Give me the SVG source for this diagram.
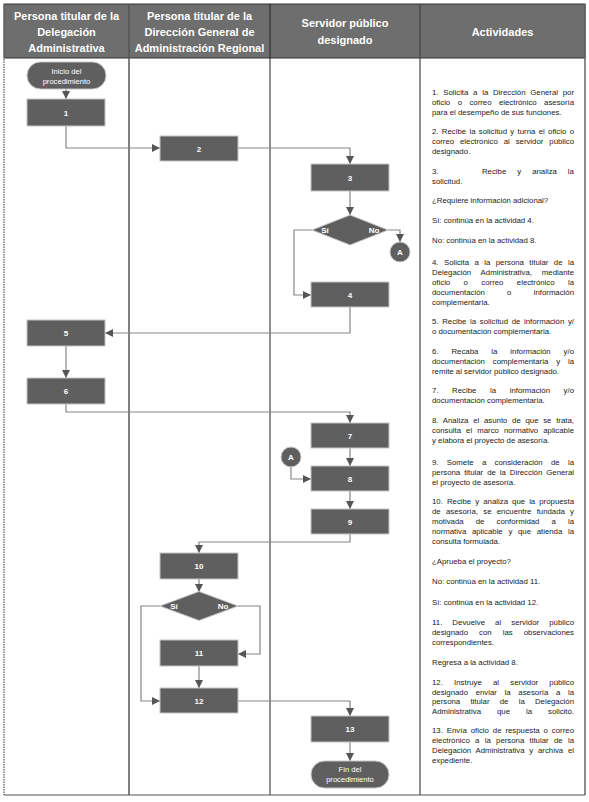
<svg xmlns="http://www.w3.org/2000/svg" width="589" height="802" viewBox="0 0 589 802">
<style>
.hdr{font-family:"Liberation Sans",Arial,sans-serif;font-size:11px;font-weight:bold;fill:#fff;text-anchor:middle}
.box{fill:#5f5f5f;stroke:#c4c4c4;stroke-width:1}
.lbl{font-family:"Liberation Sans",Arial,sans-serif;font-size:8px;font-weight:bold;fill:#fff;text-anchor:middle}
.term{font-family:"Liberation Sans",Arial,sans-serif;font-size:7.6px;fill:#fff;text-anchor:middle}
.act{font-family:"Liberation Sans",Arial,sans-serif;font-size:7.8px;fill:#222}
.con{fill:none;stroke:#858585;stroke-width:1.2}
</style>
<defs>
<marker id="ar" markerUnits="userSpaceOnUse" markerWidth="9" markerHeight="9" refX="8" refY="4" orient="auto">
<path d="M0,0 L8,4 L0,8 z" fill="#555"/>
</marker>
</defs>
<rect x="0" y="0" width="589" height="802" fill="#fff"/>
<g id="table">
<rect x="4" y="4" width="581" height="54" fill="#6e6e6e" stroke="#333" stroke-width="1"/>
<line x1="4" y1="4" x2="4" y2="795" stroke="#777" stroke-width="1.5" stroke-dasharray="1.5,1"/>
<line x1="129" y1="4" x2="129" y2="795" stroke="#555" stroke-width="1.5"/>
<line x1="270" y1="4" x2="270" y2="795" stroke="#222" stroke-width="1"/>
<line x1="420" y1="4" x2="420" y2="795" stroke="#444" stroke-width="1.2"/>
<line x1="585" y1="4" x2="585" y2="795" stroke="#666" stroke-width="1.5"/>
<line x1="4" y1="795" x2="585" y2="795" stroke="#555" stroke-width="1.2"/>
<text class="hdr" x="66.5" y="20">Persona titular de la</text>
<text class="hdr" x="66.5" y="36">Delegación</text>
<text class="hdr" x="66.5" y="52">Administrativa</text>
<text class="hdr" x="199.5" y="20">Persona titular de la</text>
<text class="hdr" x="199.5" y="36">Dirección General de</text>
<text class="hdr" x="199.5" y="52">Administración Regional</text>
<text class="hdr" x="345" y="27">Servidor público</text>
<text class="hdr" x="345" y="44">designado</text>
<text class="hdr" x="502.5" y="36">Actividades</text>
</g>
<g id="connectors">
<path class="con" marker-end="url(#ar)" d="M66,89 L66,99"/>
<path class="con" marker-end="url(#ar)" d="M66,126 L66,148 L160,148"/>
<path class="con" marker-end="url(#ar)" d="M238,148 L350,148 L350,164"/>
<path class="con" marker-end="url(#ar)" d="M350,191 L350,215"/>
<path class="con" marker-end="url(#ar)" d="M312,230 L294,230 L294,295 L311,295"/>
<path class="con" marker-end="url(#ar)" d="M388,230 L400,230 L400,242"/>
<path class="con" marker-end="url(#ar)" d="M350,307 L350,333 L105,333"/>
<path class="con" marker-end="url(#ar)" d="M66,346 L66,378"/>
<path class="con" marker-end="url(#ar)" d="M66,404 L66,412 L350,412 L350,423"/>
<path class="con" marker-end="url(#ar)" d="M350,448 L350,466"/>
<path class="con" marker-end="url(#ar)" d="M291,467 L291,479 L311,479"/>
<path class="con" marker-end="url(#ar)" d="M350,491 L350,509"/>
<path class="con" marker-end="url(#ar)" d="M350,534 L350,542 L199,542 L199,553"/>
<path class="con" marker-end="url(#ar)" d="M199,579 L199,592"/>
<path class="con" marker-end="url(#ar)" d="M160,606 L141,606 L141,701 L160,701"/>
<path class="con" marker-end="url(#ar)" d="M238,606 L260,606 L260,654 L238,654"/>
<path class="con" marker-end="url(#ar)" d="M199,666 L199,688"/>
<path class="con" marker-end="url(#ar)" d="M238,701 L350,701 L350,716"/>
<path class="con" marker-end="url(#ar)" d="M350,742 L350,761"/>
</g>
<g id="inicio"><rect class="box" x="27" y="62" width="79" height="27" rx="13.5"/><text class="term" x="66.5" y="73.5">Inicio del</text><text class="term" x="66.5" y="84">procedimiento</text></g>
<g id="n1"><rect class="box" x="27" y="99" width="78" height="27"/><text class="lbl" x="66" y="115.5">1</text></g>
<g id="n2"><rect class="box" x="160" y="136" width="78" height="25"/><text class="lbl" x="199" y="151.5">2</text></g>
<g id="n3"><rect class="box" x="311" y="164" width="78" height="27"/><text class="lbl" x="350" y="180.5">3</text></g>
<g id="d1"><path class="box" d="M350,215 L388,230 L350,245 L312,230 z"/><text class="lbl" x="325" y="233">Sí</text><text class="lbl" x="374" y="233">No</text></g>
<g id="a1"><circle class="box" cx="400" cy="252" r="10"/><text class="lbl" x="400" y="255">A</text></g>
<g id="n4"><rect class="box" x="311" y="282" width="78" height="25"/><text class="lbl" x="350" y="297.5">4</text></g>
<g id="n5"><rect class="box" x="27" y="320" width="78" height="26"/><text class="lbl" x="66" y="336">5</text></g>
<g id="n6"><rect class="box" x="27" y="378" width="78" height="26"/><text class="lbl" x="66" y="394">6</text></g>
<g id="n7"><rect class="box" x="311" y="423" width="78" height="25"/><text class="lbl" x="350" y="438.5">7</text></g>
<g id="a2"><circle class="box" cx="291" cy="457" r="10"/><text class="lbl" x="291" y="460">A</text></g>
<g id="n8"><rect class="box" x="311" y="466" width="78" height="25"/><text class="lbl" x="350" y="481.5">8</text></g>
<g id="n9"><rect class="box" x="311" y="509" width="78" height="25"/><text class="lbl" x="350" y="524.5">9</text></g>
<g id="n10"><rect class="box" x="160" y="553" width="78" height="26"/><text class="lbl" x="199" y="569">10</text></g>
<g id="d2"><path class="box" d="M199,591.5 L238,606 L199,620.5 L160,606 z"/><text class="lbl" x="174" y="609">Sí</text><text class="lbl" x="223" y="609">No</text></g>
<g id="n11"><rect class="box" x="160" y="640" width="78" height="26"/><text class="lbl" x="199" y="656">11</text></g>
<g id="n12"><rect class="box" x="160" y="688" width="78" height="25"/><text class="lbl" x="199" y="703.5">12</text></g>
<g id="n13"><rect class="box" x="311" y="716" width="78" height="26"/><text class="lbl" x="350" y="732">13</text></g>
<g id="fin"><rect class="box" x="311" y="761" width="78" height="27" rx="13.5"/><text class="term" x="350" y="771.5">Fin del</text><text class="term" x="350" y="782">procedimiento</text></g>
<g id="actividades">
<text class="act" x="432" y="95" word-spacing="2.57" textLength="142" lengthAdjust="spacing">1. Solicita a la Dirección General por</text>
<text class="act" x="432" y="105" word-spacing="5.26" textLength="142" lengthAdjust="spacing">oficio o correo electrónico asesoría</text>
<text class="act" x="432" y="115">para el desempeño de sus funciones.</text>
<text class="act" x="432" y="134" word-spacing="1.17" textLength="142" lengthAdjust="spacing">2. Recibe la solicitud y turna el oficio o</text>
<text class="act" x="432" y="144" word-spacing="3.76" textLength="142" lengthAdjust="spacing">correo electrónico al servidor público</text>
<text class="act" x="432" y="154">designado.</text>
<text class="act" y="174"><tspan x="432">3.</tspan><tspan x="479.8"> Recibe</tspan><tspan x="515.1"> y</tspan><tspan x="530"> analiza</tspan><tspan x="565.7"> la</tspan></text>
<text class="act" x="432" y="184">solicitud.</text>
<text class="act" x="432" y="203">¿Requiere información adicional?</text>
<text class="act" x="432" y="223">Sí: continúa en la actividad 4.</text>
<text class="act" x="432" y="243">No: continúa en la actividad 8.</text>
<text class="act" x="432" y="265" word-spacing="3.26" textLength="142" lengthAdjust="spacing">4. Solicita a la persona titular de la</text>
<text class="act" x="432" y="275" word-spacing="7.73" textLength="142" lengthAdjust="spacing">Delegación Administrativa, mediante</text>
<text class="act" x="432" y="285" word-spacing="11.2" textLength="142" lengthAdjust="spacing">oficio o correo electrónico la</text>
<text class="act" x="432" y="295" word-spacing="20.1" textLength="142" lengthAdjust="spacing">documentación o información</text>
<text class="act" x="432" y="305">complementaria.</text>
<text class="act" x="432" y="324" word-spacing="1.48" textLength="142" lengthAdjust="spacing">5. Recibe la solicitud de información y/</text>
<text class="act" x="432" y="334">o documentación complementaria.</text>
<text class="act" x="432" y="354" word-spacing="10.8" textLength="142" lengthAdjust="spacing">6. Recaba la información y/o</text>
<text class="act" x="432" y="364" word-spacing="5.73" textLength="142" lengthAdjust="spacing">documentación complementaria y la</text>
<text class="act" x="432" y="374">remite al servidor público designado.</text>
<text class="act" x="432" y="393" word-spacing="11.43" textLength="142" lengthAdjust="spacing">7. Recibe la información y/o</text>
<text class="act" x="432" y="403">documentación complementaria.</text>
<text class="act" x="432" y="423" word-spacing="2.5" textLength="142" lengthAdjust="spacing">8. Analiza el asunto de que se trata,</text>
<text class="act" x="432" y="433" word-spacing="2.88" textLength="142" lengthAdjust="spacing">consulta el marco normativo aplicable</text>
<text class="act" x="432" y="443">y elabora el proyecto de asesoría.</text>
<text class="act" x="432" y="465" word-spacing="6.11" textLength="142" lengthAdjust="spacing">9. Somete a consideración de la</text>
<text class="act" x="432" y="475" word-spacing="1.79" textLength="142" lengthAdjust="spacing">persona titular de la Dirección General</text>
<text class="act" x="432" y="485">el proyecto de asesoría.</text>
<text class="act" x="432" y="504" word-spacing="1.91" textLength="142" lengthAdjust="spacing">10. Recibe y analiza que la propuesta</text>
<text class="act" x="432" y="514" word-spacing="3.07" textLength="142" lengthAdjust="spacing">de asesoría, se encuentre fundada y</text>
<text class="act" x="432" y="524" word-spacing="9.93" textLength="142" lengthAdjust="spacing">motivada de conformidad a la</text>
<text class="act" x="432" y="534" word-spacing="3.51" textLength="142" lengthAdjust="spacing">normativa aplicable y que atienda la</text>
<text class="act" x="432" y="544">consulta formulada.</text>
<text class="act" x="432" y="564">¿Aprueba el proyecto?</text>
<text class="act" x="432" y="584">No: continúa en la actividad 11.</text>
<text class="act" x="432" y="605">Sí: continúa en la actividad 12.</text>
<text class="act" x="432" y="625" word-spacing="7.86" textLength="142" lengthAdjust="spacing">11. Devuelve al servidor público</text>
<text class="act" x="432" y="635" word-spacing="8.9" textLength="142" lengthAdjust="spacing">designado con las observaciones</text>
<text class="act" x="432" y="645">correspondientes.</text>
<text class="act" x="432" y="665">Regresa a la actividad 8.</text>
<text class="act" x="432" y="685" word-spacing="9.06" textLength="142" lengthAdjust="spacing">12. Instruye al servidor público</text>
<text class="act" x="432" y="695" word-spacing="5.51" textLength="142" lengthAdjust="spacing">designado enviar la asesoría a la</text>
<text class="act" x="432" y="704" word-spacing="8.08" textLength="142" lengthAdjust="spacing">persona titular de la Delegación</text>
<text class="act" x="432" y="714" word-spacing="13.8" textLength="142" lengthAdjust="spacing">Administrativa que la solicitó.</text>
<text class="act" x="432" y="733" word-spacing="1.77" textLength="142" lengthAdjust="spacing">13. Envía oficio de respuesta o correo</text>
<text class="act" x="432" y="743" word-spacing="3.14" textLength="142" lengthAdjust="spacing">electrónico a la persona titular de la</text>
<text class="act" x="432" y="753" word-spacing="2.55" textLength="142" lengthAdjust="spacing">Delegación Administrativa y archiva el</text>
<text class="act" x="432" y="763">expediente.</text>
</g>
</svg>
